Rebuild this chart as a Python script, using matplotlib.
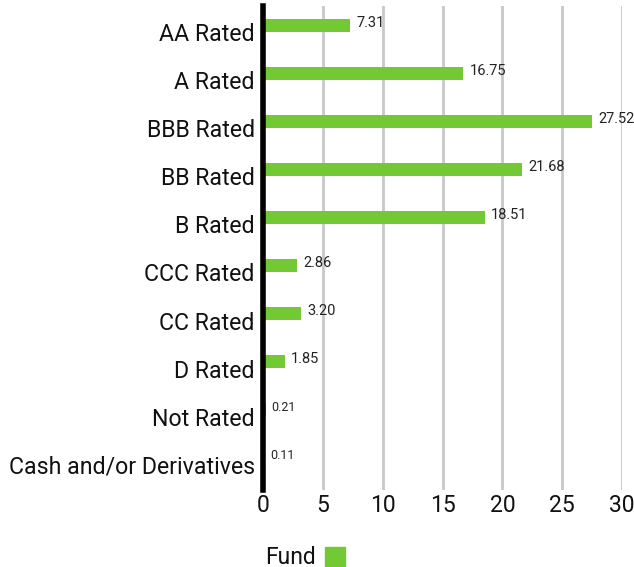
import matplotlib
matplotlib.use("Agg")
import matplotlib.pyplot as plt
from matplotlib.patches import Rectangle

categories = ["AA Rated", "A Rated", "BBB Rated", "BB Rated", "B Rated",
              "CCC Rated", "CC Rated", "D Rated", "Not Rated", "Cash and/or Derivatives"]
fund = [7.31, 16.75, 27.52, 21.68, 18.51, 2.86, 3.20, 1.85, 0.21, 0.11]
xticks = [0, 5, 10, 15, 20, 25, 30]

plt.rcParams["font.family"] = ["Roboto", "DejaVu Sans"]

fig = plt.figure(figsize=(6.34, 5.67), dpi=100)
ax = fig.add_axes([263 / 634, 1 - 490 / 567, (622 - 263) / 634, (490 - 6) / 567])

green = "#73c933"
ypos = list(range(len(categories)))
bar_y = [y - 0.14 for y in ypos]
ax.barh(bar_y, fund, height=0.27, color=green, zorder=3)

for y, v in zip(bar_y, fund):
    fs = 9 if v < 1 else 10.5
    ax.text(v + 0.5, y - 0.05, f"{v:.2f}", fontsize=fs, va="center", ha="left", color="#222222")

ax.set_yticks(ypos)
ax.set_yticklabels(categories, fontsize=16.7, color="#111111")
ax.set_ylim(len(categories) - 0.47, -0.55)
ax.set_xlim(0, 30)
ax.set_xticks(xticks)
ax.set_xticklabels([str(t) for t in xticks], fontsize=16.5, color="#111111")
ax.tick_params(axis="both", length=0, pad=6)
ax.tick_params(axis="x", pad=3)

ax.grid(axis="x", color="#c8c8c8", linewidth=2, zorder=0)
for s in ["top", "right", "bottom"]:
    ax.spines[s].set_visible(False)
ax.spines["left"].set_linewidth(4)
ax.spines["left"].set_color("black")
ax.spines["left"].set_zorder(4)

fig.text(265 / 634, 1 - 557 / 567, "Fund", fontsize=16.5, va="center", ha="left", color="#111111")
fig.patches.append(Rectangle((325 / 634, 0), 20 / 634, 20 / 567,
                             transform=fig.transFigure, color=green, figure=fig))

fig.savefig("out.png", dpi=100)
